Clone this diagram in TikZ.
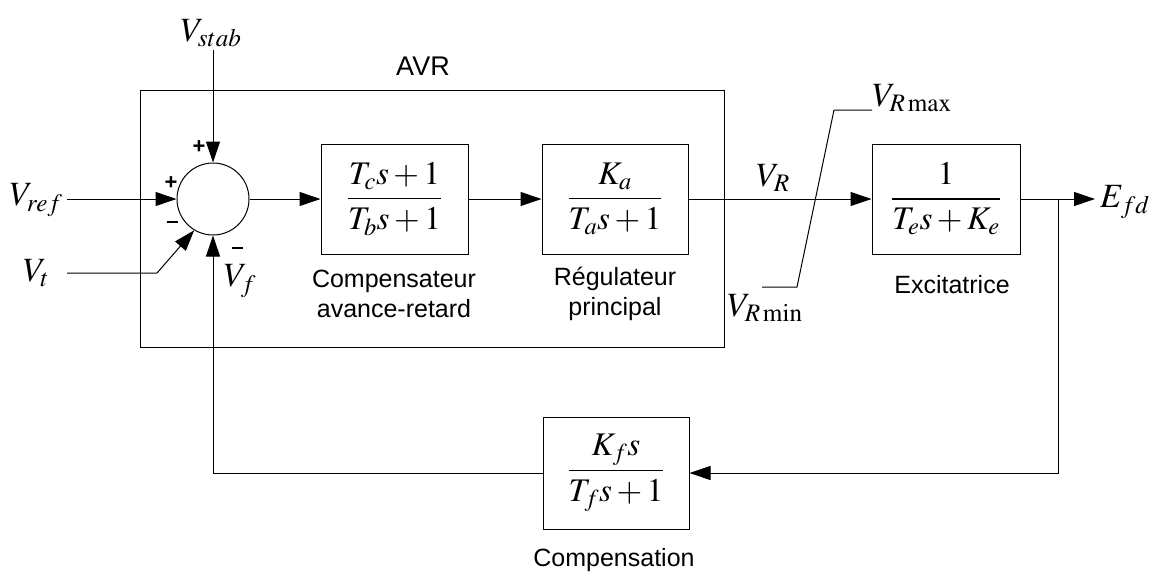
\documentclass[tikz,border=0pt]{standalone}
\usepackage{amsmath}
\usepackage{mathptmx}
\usepackage{fontspec}
\setsansfont{Liberation Sans}
\usetikzlibrary{arrows.meta}
\begin{document}
\begin{tikzpicture}[x=1pt,y=-1pt,line width=1pt,
  blk/.style={draw,inner sep=0pt,minimum height=110pt,font=\fontsize{33}{38}\selectfont},
  arr/.style={-{Triangle[length=21pt,width=14pt]}},
  lab/.style={font=\fontsize{25}{30}\sffamily\selectfont,align=center,inner sep=0pt},
  mth/.style={font=\fontsize{34}{38}\selectfont,inner sep=0pt},
  sgn/.style={font=\fontsize{22}{24}\sffamily\bfseries\selectfont,inner sep=0pt}]
\useasboundingbox (0,0) rectangle (1156,571);
% AVR frame
\node[draw,minimum width=584pt,minimum height=257pt,inner sep=0pt] (avr) at (432,218.5) {};
\node[lab,font=\fontsize{27}{30}\sffamily\selectfont] (avrl) at (423,66) {AVR};
% summing junction
\node[draw,circle,minimum size=72pt,inner sep=0pt] (sum) at (213,199) {};
% blocks
\node[blk,minimum width=147pt] (cmp) at (394.5,199) {$\dfrac{T_c s+1}{T_b s+1}$};
\node[blk,minimum width=146pt] (reg) at (615,199) {$\dfrac{K_a}{T_a s+1}$};
\node[blk,minimum width=148pt] (exc) at (946,199) {$\dfrac{1}{T_e s+K_e}$};
\node[blk,minimum width=146pt,minimum height=112pt] (fb) at (616,473) {$\dfrac{K_f s}{T_f s+1}$};
% labels under blocks
\node[lab] (cmpl) at (394,294) {Compensateur\\avance-retard};
\node[lab] (regl) at (615,294) {Régulateur\\principal};
\node[lab] (excl) at (952,285) {Excitatrice};
\node[lab] (fbl) at (614,560) {Compensation};
% signal labels
\node[mth] (vref) at (36,200) {$V_{ref}$};
\node[mth] (vstab) at (211,33) {$V_{stab}$};
\node[mth] (vt) at (36,273) {$V_t$};
\node[mth] (vf) at (240,281) {$V_f$};
\node[mth] (vr) at (773,178) {$V_R$};
\node[mth] (vrmax) at (912,98) {$V_{R\,\mathrm{max}}$};
\node[mth] (vrmin) at (765,308) {$V_{R\,\mathrm{min}}$};
\node[mth] (efd) at (1125,202) {$E_{fd}$};
% signs
\node[sgn] (s1) at (199,147) {+};
\node[sgn] (s2) at (171,183) {+};
\node[sgn] (s3) at (172,224) {\rule[0.3ex]{0.5em}{1.6pt}};
\node[sgn] (s4) at (237,250) {\rule[0.3ex]{0.5em}{1.6pt}};
% coordinates
\coordinate (vstabE) at (213,50);
\coordinate (vrefE) at (67,199);
\coordinate (vtE) at (67,273);
\coordinate (vtK) at (157,273);
\coordinate (efdE) at (1095,199);
\coordinate (brn) at (1058,199);
\coordinate (lm1) at (762,287);
\coordinate (lm2) at (797,287);
\coordinate (lm3) at (834,110);
\coordinate (lm4) at (872,110);
% connectors
\draw[arr] (vstabE) -- (sum.north);
\draw[arr] (vrefE) -- (sum.west);
\draw[arr] (vtE) -- (vtK) -- (sum.239);
\draw[arr] (sum.east) -- (cmp.west);
\draw[arr] (cmp.east) -- (reg.west);
\draw[arr] (reg.east) -- (exc.west);
\draw[arr] (exc.east) -- (efdE);
\draw[arr] (brn) |- (fb.east);
\draw[arr] (fb.west) -| (sum.south);
\draw (lm1) -- (lm2) -- (lm3) -- (lm4);
\end{tikzpicture}
\end{document}
